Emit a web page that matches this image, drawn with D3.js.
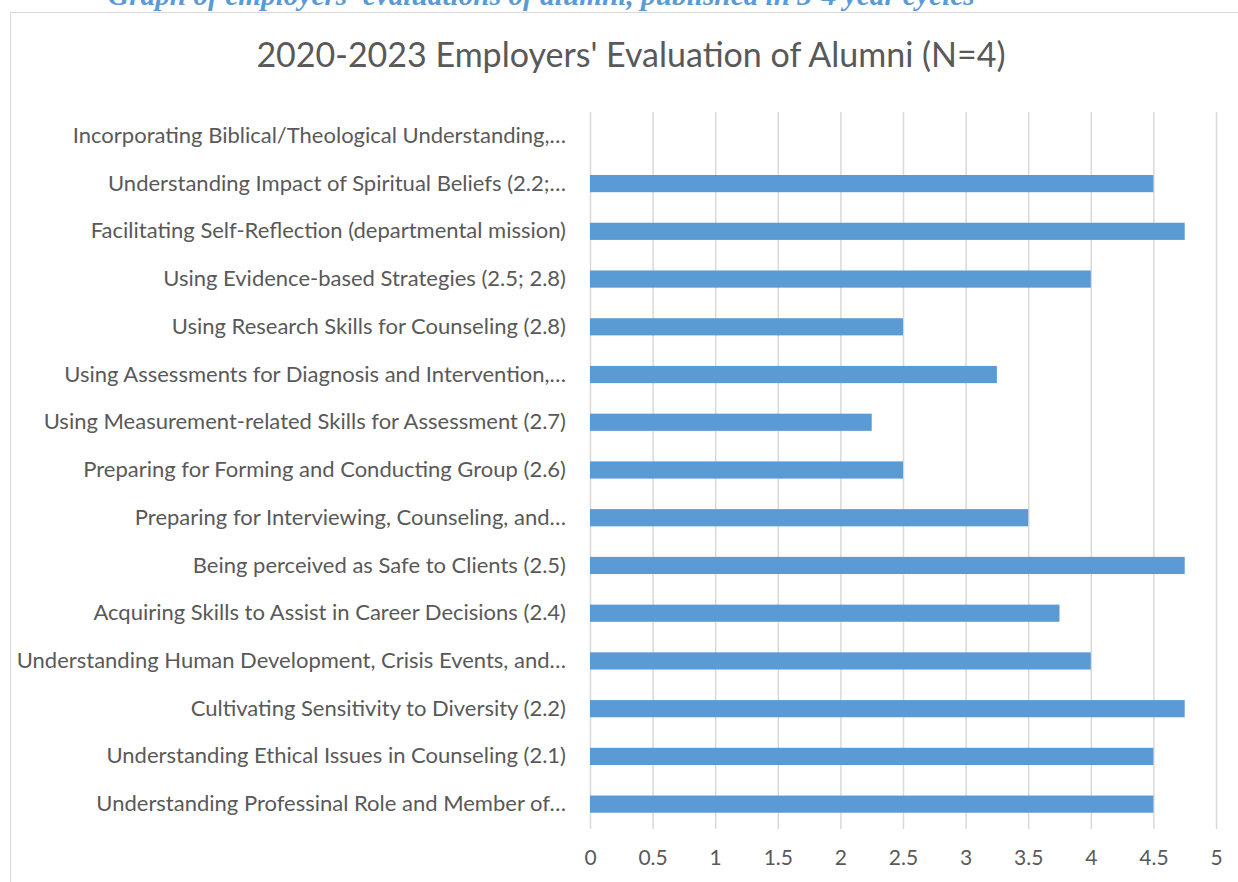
<!DOCTYPE html>
<meta charset="utf-8">
<head>
<script src="https://d3js.org/d3.v7.min.js"></script>
<style>
  body { margin: 0; background: #fff; }
  .grid line { stroke: #d9d9d9; stroke-width: 1.5px; }
  .grid path { display: none; }
  .xaxis text, .yaxis text { fill: #595959; font-family: Lato, sans-serif; }
  .xaxis path, .xaxis line, .yaxis path, .yaxis line { display: none; }
</style>
</head>
<body>
<script>

// categories, top to bottom as they appear
var categories = [
  "Incorporating Biblical/Theological Understanding,…",
  "Understanding Impact of Spiritual Beliefs (2.2;…",
  "Facilitating Self-Reflection (departmental mission)",
  "Using Evidence-based Strategies (2.5; 2.8)",
  "Using Research Skills for Counseling (2.8)",
  "Using Assessments for Diagnosis and Intervention,…",
  "Using Measurement-related Skills for Assessment (2.7)",
  "Preparing for Forming and Conducting Group (2.6)",
  "Preparing for Interviewing, Counseling, and…",
  "Being perceived as Safe to Clients (2.5)",
  "Acquiring Skills to Assist in Career Decisions (2.4)",
  "Understanding Human Development, Crisis Events, and…",
  "Cultivating Sensitivity to Diversity (2.2)",
  "Understanding Ethical Issues in Counseling (2.1)",
  "Understanding Professinal Role and Member of…"
];
var scores = [0, 4.5, 4.75, 4, 2.5, 3.25, 2.25, 2.5, 3.5, 4.75, 3.75, 4, 4.75, 4.5, 4.5];
var xTicks = [0, 0.5, 1, 1.5, 2, 2.5, 3, 3.5, 4, 4.5, 5];

var W = 1238, H = 882;
var margin = {top: 112, right: 22, bottom: 54, left: 590};
var width = W - margin.left - margin.right,
    height = H - margin.top - margin.bottom;

var svg = d3.select("body").append("svg")
    .attr("width", W)
    .attr("height", H);

// chart area border
svg.append("rect")
    .attr("x", 10.5).attr("y", 12.5)
    .attr("width", W + 20).attr("height", H + 20)
    .attr("fill", "#fff")
    .attr("stroke", "#d9d9d9")
    .attr("stroke-width", 1);

// caption above the chart, cut off at the top of the page
svg.append("text")
    .attr("x", 108).attr("y", 5)
    .style("font-family", "Liberation Serif")
    .style("font-style", "italic")
    .style("font-weight", "bold")
    .style("font-size", "29.3px")
    .style("fill", "#5b9bd5")
    .text("Graph of employers' evaluations of alumni, published in 3-4 year cycles");

// title
svg.append("text")
    .attr("x", 631).attr("y", 67)
    .attr("text-anchor", "middle")
    .style("font-family", "Lato")
    .style("font-size", "34px")
    .style("fill", "#595959")
    .text("2020-2023 Employers' Evaluation of Alumni (N=4)");

var g = svg.append("g")
    .attr("transform", "translate(" + margin.left + "," + margin.top + ")");

var x = d3.scaleLinear().domain([0, 5]).range([0, 626]);
var y = d3.scaleBand().domain(categories).range([0, height]).paddingInner(0.64).paddingOuter(0.32);

// gridlines
g.append("g")
    .attr("class", "grid")
    .call(d3.axisBottom(x).tickValues(xTicks).tickSize(height + 1).tickFormat(""));

// bars
g.selectAll(".bar")
    .data(scores)
  .enter().append("rect")
    .attr("class", "bar")
    .attr("x", x(0))
    .attr("y", function(d, i) { return y(categories[i]); })
    .attr("width", function(d) { return x(d) - x(0); })
    .attr("height", y.bandwidth())
    .attr("fill", "#5b9bd5");

// x axis labels
g.append("g")
    .attr("class", "xaxis")
    .attr("transform", "translate(0," + height + ")")
    .call(d3.axisBottom(x).tickValues(xTicks).tickSize(0).tickPadding(22).tickFormat(d3.format("")))
    .selectAll("text").style("font-size", "21px");

// category labels
g.append("g")
    .attr("class", "yaxis")
    .call(d3.axisLeft(y).tickSize(0).tickPadding(24))
    .selectAll("text").style("font-size", "22px");

</script>
</body>
